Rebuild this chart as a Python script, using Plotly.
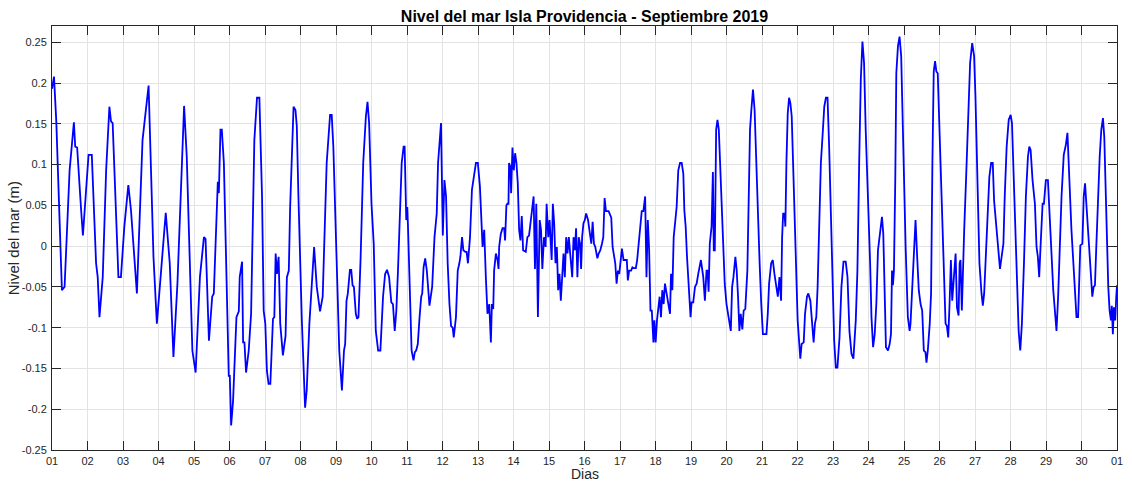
import plotly.graph_objects as go

# Hours since 2019-09-01 00:00 and sea level (m)
horas = [0.0, 1.35, 2.9, 6.7, 8.5, 11.9, 14.8, 15.7, 17.0, 19.1, 19.7, 20.9, 22.4, 24.7, 26.9, 29.8, 30.9, 32.1,
         34.3, 36.6, 38.8, 39.9, 41.0, 44.9, 46.6, 48.9, 51.6, 53.4, 57.4,
         61.2, 65.3, 68.6, 70.9, 73.6, 76.9, 79.6, 82.1, 84.8, 87.0, 89.3, 91.1, 94.9, 97.1, 100.0, 102.7, 103.8,
         106.1, 108.3, 109.4, 111.7, 112.1, 112.8, 113.9, 114.8, 116.2, 119.5,
         120.2, 121.1, 122.4, 124.7, 126.3, 126.9, 128.5, 129.2, 130.1, 131.2, 133.0, 134.6, 135.9, 136.8, 138.6,
         140.2, 142.0, 143.1, 144.2, 145.3, 146.4, 147.6, 149.4, 150.3, 151.2, 152.1, 153.2, 154.3, 156.1, 157.9,
         158.8, 160.1, 161.0, 163.3, 164.6, 165.5, 166.6, 168.9, 171.1, 172.2, 174.0, 176.3, 177.2,
         179.0, 181.2, 183.0, 183.9, 185.7, 188.0, 189.1, 190.2, 192.4, 194.2, 196.0, 197.4, 198.2, 199.1, 200.0,
         201.4, 202.3, 203.2, 204.1, 205.4, 206.3, 207.2, 208.6, 210.4, 212.2, 213.3, 214.4, 216.0, 217.5, 218.9,
         220.5, 222.0, 223.8, 225.2, 226.5, 227.9, 229.4, 230.5, 231.7, 232.8, 233.9, 235.5, 236.4, 237.7, 238.4,
         239.5, 240.2,
         240.6, 241.3, 242.2, 243.1, 244.4, 245.3, 246.2, 247.3, 248.5, 249.6, 250.3, 251.2, 252.3, 253.4, 255.2,
         257.0, 258.6, 260.1, 261.0, 261.9, 263.0, 264.2, 265.3, 266.4, 267.5, 268.7, 269.8, 270.9, 271.6, 273.1,
         274.3, 275.4, 276.1, 277.2, 278.1, 279.4, 280.3, 281.2, 282.6, 283.9, 285.5, 286.6, 287.9, 289.3, 291.1,
         292.2, 293.3, 294.4, 295.6, 296.7, 297.4, 298.3, 298.9, 300.1,
         301.2, 301.9, 302.3, 303.4, 304.6, 305.7, 306.3, 307.2, 307.9, 308.6, 309.0, 309.9, 310.4, 311.3, 312.2,
         313.1, 314.0, 314.9, 315.8, 316.7, 317.6, 318.5, 320.3, 321.4, 322.5, 323.6, 324.7, 325.6, 326.5, 327.4,
         328.5, 329.7, 330.6, 331.5, 332.6, 333.7, 334.4, 335.5, 336.4, 337.3, 337.8, 338.6, 339.5, 340.4, 341.3,
         342.2, 343.1, 344.0, 344.9, 345.8, 346.7, 347.6, 348.5, 349.4, 350.5, 351.7, 352.6, 353.5, 354.3, 355.2,
         356.1, 357.0, 357.7, 358.4, 359.3, 360.2, 361.1,
         362.4, 363.3, 364.6, 365.5, 366.4, 367.3, 368.7, 369.6, 370.7, 371.8, 372.7, 373.6, 374.5, 376.3, 378.1,
         379.0, 379.9, 380.8, 381.7, 382.6, 383.5, 384.4, 385.3, 386.4, 387.5, 388.6, 389.3, 390.2, 391.5, 392.4,
         393.3, 394.7, 395.6, 396.5, 397.6, 398.7, 399.8, 401.0, 401.9, 402.8, 403.7, 404.6, 405.5, 406.6, 407.2,
         408.1, 409.0, 409.9, 410.8, 411.7, 412.6, 413.5, 414.4, 415.5, 416.7, 417.8, 418.5, 419.4, 420.3,
         422.3, 423.4, 424.6, 425.7, 426.8, 427.5, 428.4, 429.3, 430.2, 431.1, 431.7, 432.4, 433.5, 434.7, 435.8,
         436.9, 438.7, 440.3, 441.4, 442.5, 443.2, 443.9, 444.7, 445.9, 446.8, 447.4, 448.1, 449.0, 449.9, 450.8,
         452.1, 453.7, 454.8, 456.0, 457.1, 458.9, 459.8, 460.7, 462.0, 462.9, 463.8, 464.7, 465.6, 466.7, 467.6,
         468.7, 470.1, 471.0, 471.9, 472.8, 473.9, 475.0, 476.1, 477.3, 478.4, 479.5, 480.6, 481.8,
         483.0, 483.9, 484.8, 486.2, 487.3, 488.4, 489.5, 490.7, 491.8, 492.9, 493.6, 494.3, 495.2, 495.8, 496.5,
         497.4, 498.3, 499.2, 500.1, 501.4, 503.0, 504.1, 505.9, 506.8, 508.2, 509.1, 510.4, 511.3, 512.7, 513.5,
         514.9, 515.8, 516.7, 517.6, 518.7, 519.8, 521.2, 522.1, 523.2, 524.3, 525.4, 526.6, 527.7, 528.8, 529.9,
         531.0, 532.4, 533.7, 535.1, 536.6, 537.8, 539.1, 540.5, 541.8,
         543.4, 544.5, 545.7, 546.8, 547.9, 549.0, 550.1, 551.7, 553.1, 554.0, 555.1, 556.2, 557.3, 558.4, 559.8,
         561.1, 562.0, 562.9, 563.8, 565.2, 566.3, 567.2, 567.9, 568.5, 569.2, 570.1, 570.8, 571.9, 573.0, 574.1,
         575.5, 577.1, 578.6, 579.8, 580.4, 581.3, 582.7, 583.8, 584.9, 586.0, 587.2, 588.3, 589.4, 590.5, 591.2,
         592.1, 593.4, 594.3, 595.2, 596.1, 597.0, 597.9, 598.8, 599.7, 601.1, 602.4,
         604.1, 605.0, 605.9, 606.8, 607.7, 608.6, 609.5, 610.9, 611.8, 612.9, 613.6, 614.2, 615.1, 615.8, 616.7,
         618.1, 619.6, 620.7, 622.1, 623.4, 624.3, 625.7, 627.0, 628.4, 629.3, 630.2, 631.1, 632.4, 633.7, 634.9,
         636.0, 636.9, 638.2, 639.6, 640.9, 642.0, 643.2, 644.1, 645.4, 646.8, 648.1, 649.0, 649.9, 651.2, 652.6,
         653.5, 654.6, 655.7, 657.1, 658.4, 659.8, 660.7, 661.6, 662.9,
         664.5, 665.6, 666.5, 667.4, 668.3, 669.7, 670.6, 671.9, 673.3, 674.2, 675.5, 676.9, 678.2, 679.1, 680.2,
         681.3, 682.5, 684.0, 685.4, 686.5, 687.6, 689.2, 690.8, 691.7, 692.6, 693.7, 694.8, 695.2, 696.6, 697.5,
         698.4, 699.3, 700.4, 701.5, 702.6, 703.3, 704.2, 705.1, 706.0, 707.1, 708.3, 709.4, 710.5, 711.4, 712.3,
         713.2, 714.1, 715.0, 715.9, 716.5, 717.2, 717.9, 718.8, 719.5, 720.0]

nivel = [0.193, 0.208, 0.153, -0.054, -0.050, 0.093, 0.152, 0.122, 0.121, 0.052, 0.044, 0.013, 0.056, 0.112, 0.112,
         -0.021, -0.038, -0.087, -0.038, 0.093, 0.171, 0.153, 0.151, -0.038, -0.038, 0.024, 0.075, 0.044, -0.058,
         0.130, 0.197, -0.013, -0.095, -0.030, 0.041, -0.021, -0.136, -0.046, 0.061, 0.172, 0.110, -0.128, -0.155,
         -0.038, 0.011, 0.009, -0.116, -0.062, -0.058, 0.065, 0.079, 0.065, 0.143, 0.143, 0.102, -0.159,
         -0.159, -0.220, -0.190, -0.087, -0.080, -0.038, -0.019, -0.118, -0.118, -0.155, -0.128, -0.083, 0.020, 0.130,
         0.182, 0.182, 0.061, -0.079, -0.095, -0.153, -0.169, -0.169, -0.089, -0.087, -0.009, -0.034, -0.013, -0.095,
         -0.134, -0.110, -0.038, -0.030, 0.048, 0.171, 0.167, 0.147, 0.061, -0.091, -0.198, -0.177, -0.095, -0.030,
         -0.001,
         -0.050, -0.080, -0.062, -0.013, 0.102, 0.161, 0.161, 0.122, -0.021, -0.128, -0.177, -0.128, -0.120, -0.067,
         -0.058, -0.029, -0.029, -0.048, -0.050, -0.083, -0.089, -0.087, -0.017, 0.102, 0.159, 0.177, 0.151, 0.052,
         0.003, -0.104, -0.128, -0.128, -0.062, -0.034, -0.029, -0.038, -0.069, -0.071, -0.104, -0.079, -0.030, 0.040,
         0.102, 0.122, 0.122, 0.032, 0.048,
         0.028, -0.013, -0.083, -0.128, -0.140, -0.130, -0.128, -0.120, -0.087, -0.062, -0.058, -0.026, -0.015, -0.030,
         -0.073, -0.050, 0.011, 0.040, 0.102, 0.122, 0.151, 0.013, 0.081, 0.061, -0.021, -0.071, -0.098, -0.100,
         -0.112, -0.087, -0.030, -0.021, -0.013, 0.011, -0.005, -0.007, -0.007, -0.021, 0.011, 0.069, 0.093, 0.102,
         0.102, 0.073, -0.001, 0.020, -0.038, -0.083, -0.071, -0.118, -0.071, -0.077, -0.030, -0.009,
         -0.017, -0.028, -0.001, 0.015, 0.022, 0.022, 0.007, 0.050, 0.052, 0.052, 0.102, 0.097, 0.065, 0.121, 0.093,
         0.114, 0.102, 0.077, 0.020, 0.007, 0.037, -0.005, -0.007, 0.011, 0.013, 0.032, 0.048, 0.061, -0.028, 0.052,
         -0.087, 0.032, 0.020, -0.028, 0.011, -0.001, 0.052, 0.011, 0.032, 0.003, -0.017, 0.052, 0.028, -0.021,
         -0.001, -0.054, -0.034, -0.067, -0.038, -0.009, -0.038, 0.011, -0.009, 0.011, -0.013, -0.038, 0.011, -0.005,
         0.022, -0.038, 0.011, 0.003, -0.028, 0.011, 0.028, 0.032, 0.040,
         0.032, 0.020, 0.003, 0.030, 0.003, -0.001, -0.015, -0.009, -0.005, 0.003, 0.011, 0.059, 0.043, 0.043, 0.035,
         -0.001, -0.013, -0.021, -0.046, -0.030, -0.034, -0.017, -0.003, -0.017, -0.017, -0.017, -0.042, -0.030,
         -0.030, -0.026, -0.027, -0.027, -0.017, 0.003, 0.028, 0.043, 0.043, 0.061, -0.038, 0.032, -0.005, -0.079,
         -0.079, -0.118, -0.091, -0.118, -0.091, -0.071, -0.062, -0.087, -0.054, -0.071, -0.046, -0.058, -0.071,
         -0.083, -0.034, -0.054, 0.011,
         0.048, 0.093, 0.102, 0.102, 0.089, 0.044, 0.024, -0.013, -0.042, -0.075, -0.087, -0.069, -0.069, -0.050,
         -0.046, -0.034, -0.017, -0.038, -0.067, -0.030, -0.030, -0.056, 0.003, 0.024, 0.091, -0.005, -0.005, 0.143,
         0.155, 0.143, 0.081, -0.001, -0.046, -0.071, -0.083, -0.104, -0.050, -0.038, -0.013, -0.030, -0.062, -0.104,
         -0.083, -0.102, -0.079, -0.077, -0.030, 0.061, 0.143, 0.167, 0.192, 0.167, 0.102, 0.020, -0.021, -0.071,
         -0.108, -0.108,
         -0.108, -0.083, -0.046, -0.021, -0.017, -0.034, -0.046, -0.062, -0.038, -0.067, 0.011, 0.040, 0.040, 0.024,
         0.102, 0.163, 0.182, 0.175, 0.159, 0.081, -0.021, -0.091, -0.138, -0.120, -0.118, -0.083, -0.062, -0.058,
         -0.067, -0.083, -0.118, -0.095, -0.087, -0.050, 0.020, 0.102, 0.143, 0.171, 0.182, 0.182, 0.122, 0.036,
         -0.046, -0.116, -0.149, -0.149, -0.112, -0.050, -0.019, -0.019, -0.038, -0.104, -0.132, -0.138,
         -0.091, -0.030, 0.102, 0.205, 0.251, 0.225, 0.143, 0.061, -0.021, -0.087, -0.124, -0.108, -0.071, -0.005,
         0.020, 0.036, 0.015, -0.062, -0.124, -0.128, -0.120, -0.108, -0.030, -0.048, -0.030, 0.081, 0.212, 0.245,
         0.257, 0.233, 0.102, -0.001, -0.087, -0.104, -0.095, -0.062, -0.005, 0.032, -0.013, -0.054, -0.071, -0.079,
         -0.128, -0.130, -0.143, -0.128, -0.095, -0.058, 0.102, 0.214, 0.227, 0.214, 0.212, 0.163, 0.081, -0.001,
         -0.095, -0.098, -0.112, -0.071, -0.017, -0.067, -0.038, -0.009, -0.075, -0.085, -0.021, -0.017, -0.079,
         -0.046, 0.020, 0.089, 0.184, 0.225, 0.249, 0.233, 0.184, 0.061, -0.021, -0.058, -0.073, -0.058, -0.021,
         0.036, 0.085, 0.102, 0.102, 0.056, 0.028, -0.005, -0.028, -0.013, 0.003, 0.061, 0.122, 0.155, 0.161, 0.151,
         0.102, 0.011, -0.062, -0.104, -0.128, -0.095, -0.021, 0.061, 0.110, 0.122, 0.118, 0.081,
         0.052, -0.001, -0.013, -0.038, -0.001, 0.052, 0.052, 0.081, 0.081, 0.052, -0.001, -0.054, -0.087, -0.104,
         -0.062, 0.003, 0.061, 0.112, 0.124, 0.139, 0.085, 0.020, -0.030, -0.054, -0.087, -0.087, -0.005, 0.001,
         0.003, 0.061, 0.077, 0.052, 0.020, -0.021, -0.046, -0.062, -0.050, -0.048, -0.001, 0.061, 0.110, 0.143,
         0.157, 0.134, 0.061, -0.013, -0.050, -0.079, -0.091, -0.073, -0.108, -0.075, -0.091, -0.062, -0.048]

dias_tick = list(range(1, 32))
dias_label = ["%02d" % d for d in range(1, 31)] + ["01"]
y_ticks = [-0.25, -0.2, -0.15, -0.1, -0.05, 0, 0.05, 0.1, 0.15, 0.2, 0.25]
y_labels = ["-0.25", "-0.2", "-0.15", "-0.1", "-0.05", "0", "0.05", "0.1", "0.15", "0.2", "0.25"]

x_dias = [1 + h / 24.0 for h in horas]

FONT = "Liberation Sans, Arial, Helvetica, sans-serif"
AX = "#262626"
W, H = 1132, 483
ML, MR, MT, MB = 52, 9, 26, 33

fig = go.Figure()
fig.add_trace(go.Scatter(x=x_dias, y=nivel, mode="lines",
                         line=dict(color="#0000ff", width=1.8), showlegend=False))

fig.update_layout(
    width=W, height=H,
    margin=dict(l=ML, r=MR, t=MT, b=MB),
    paper_bgcolor="white", plot_bgcolor="white",
    font=dict(family=FONT, size=11, color=AX),
    title=dict(text="<b>Nivel del mar Isla Providencia - Septiembre 2019</b>",
               x=0.5, xref="paper", y=1 - 16 / H, yref="container",
               xanchor="center", yanchor="middle",
               font=dict(family=FONT, size=16, color="black")),
    annotations=[
        dict(text="Dias", xref="paper", yref="paper", x=0.5, y=-(474 - (H - MB)) / (H - MT - MB),
             xanchor="center", yanchor="middle", showarrow=False,
             font=dict(family=FONT, size=14, color=AX)),
        dict(text="Nivel del mar (m)", xref="paper", yref="paper",
             x=-(ML - 13) / (W - ML - MR), y=0.5, textangle=-90,
             xanchor="center", yanchor="middle", showarrow=False,
             font=dict(family=FONT, size=15, color=AX)),
    ],
)
fig.update_xaxes(range=[1, 31], tickmode="array", tickvals=dias_tick, ticktext=dias_label,
                 showgrid=True, gridcolor="#e3e3e3", gridwidth=1,
                 ticks="inside", ticklen=9, tickcolor=AX, tickwidth=1, ticklabelstandoff=1,
                 showline=True, linecolor=AX, linewidth=1, mirror="ticks", zeroline=False,
                 tickfont=dict(size=11, color=AX))
fig.update_yaxes(range=[-0.25, 0.27], tickmode="array", tickvals=y_ticks, ticktext=y_labels,
                 showgrid=True, gridcolor="#e3e3e3", gridwidth=1,
                 ticks="inside", ticklen=9, tickcolor=AX, tickwidth=1, ticklabelstandoff=2,
                 showline=True, linecolor=AX, linewidth=1, mirror="ticks", zeroline=False,
                 tickfont=dict(size=11, color=AX))

fig.write_html("out.html")
